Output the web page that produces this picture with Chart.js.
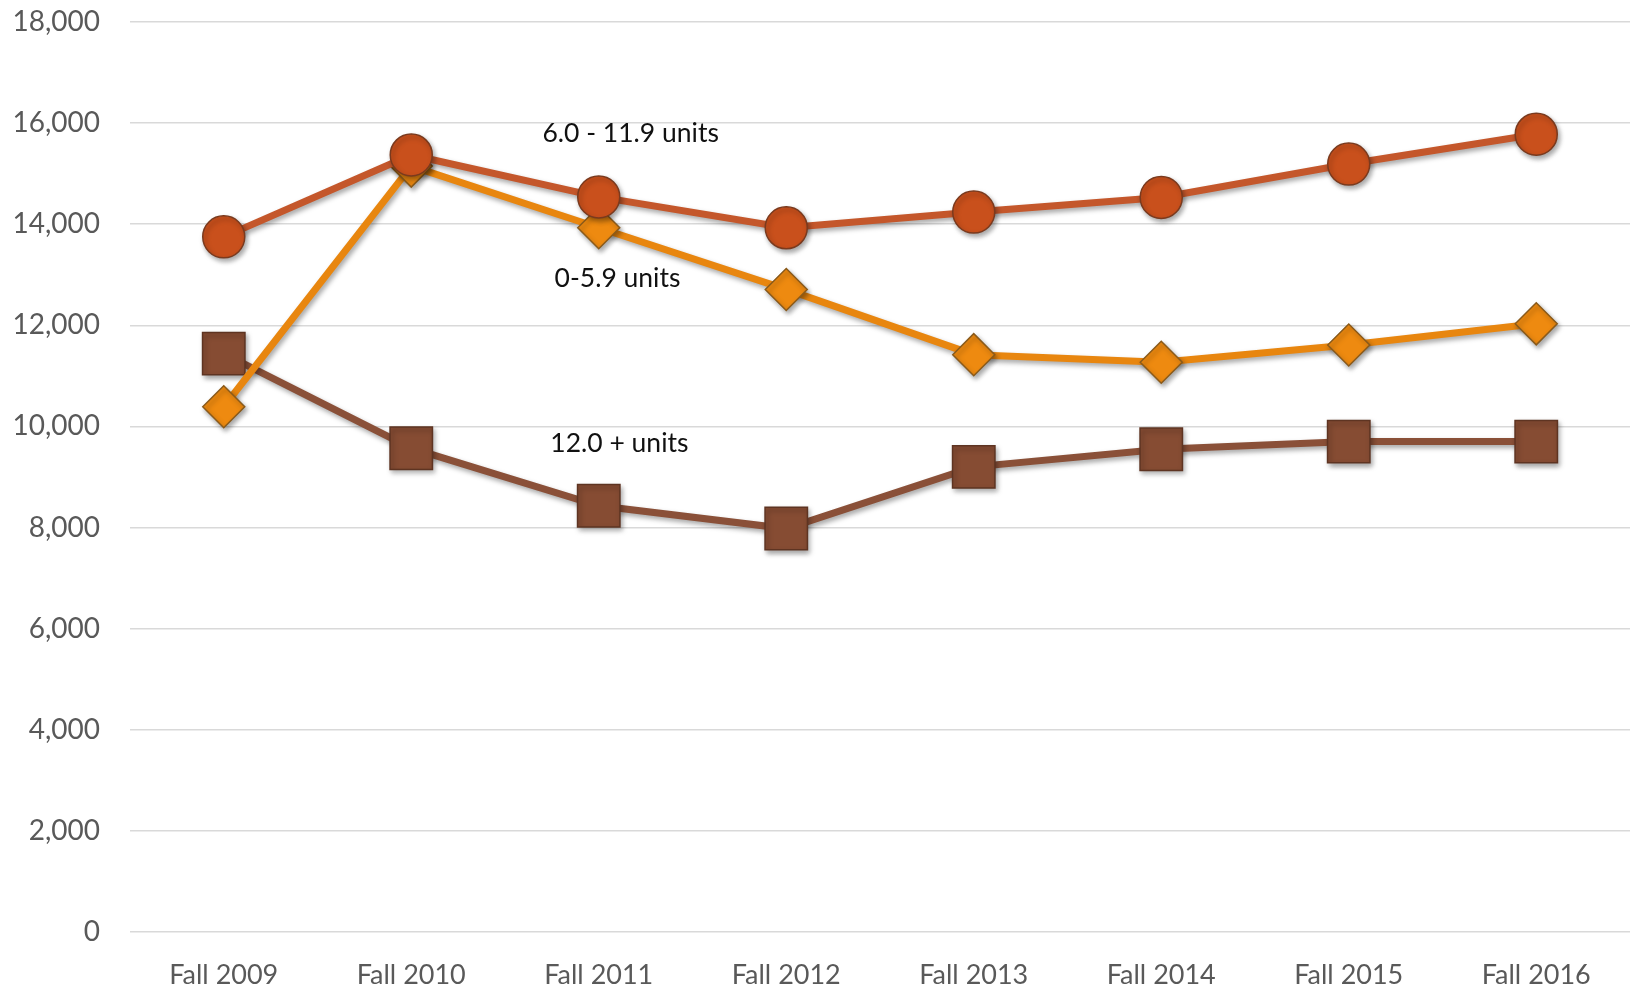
<!DOCTYPE html>
<html>
<head>
<meta charset="utf-8">
<script src="https://cdn.jsdelivr.net/npm/chart.js@4.4.1/dist/chart.umd.min.js"></script>
<style>
    body { margin: 0; background: #ffffff; overflow: hidden; }
    #wrap { width: 1631px; height: 989px; position: relative; }
</style>
</head>
<body>
<div id="wrap"><canvas id="graficaUnidades"></canvas></div>
<script>
let categorias = ['Fall 2009', 'Fall 2010', 'Fall 2011', 'Fall 2012', 'Fall 2013', 'Fall 2014', 'Fall 2015', 'Fall 2016'];
let unidades6a119 = [13750, 15370, 14540, 13930, 14240, 14530, 15190, 15780];
let unidades0a59 = [10390, 15150, 13930, 12710, 11420, 11270, 11610, 12030];
let unidades12mas = [11440, 9570, 8430, 7980, 9200, 9550, 9700, 9700];
let ticksY = [0, 2000, 4000, 6000, 8000, 10000, 12000, 14000, 16000, 18000];

// etiquetas de serie: [texto, indice categoria, valor]
let etiquetas = [
    ['6.0 - 11.9 units', 2.17, 15800],
    ['0-5.9 units', 2.1, 12920],
    ['12.0 + units', 2.11, 9670]
];

let sombra = {
    id: 'sombra',
    beforeDatasetsDraw: function(chart) {
        let ctx = chart.ctx;
        ctx.save();
        ctx.shadowColor = 'rgba(0,0,0,0.35)';
        ctx.shadowBlur = 5;
        ctx.shadowOffsetX = 2;
        ctx.shadowOffsetY = 3;
    },
    afterDatasetsDraw: function(chart) {
        chart.ctx.restore();
    }
};

let textoSeries = {
    id: 'textoSeries',
    afterDatasetsDraw: function(chart) {
        let ctx = chart.ctx;
        let x = chart.scales.x;
        let y = chart.scales.y;
        ctx.save();
        ctx.font = '26.5px Lato';
        ctx.fillStyle = '#111111';
        ctx.textAlign = 'center';
        ctx.textBaseline = 'middle';
        etiquetas.forEach(function(e) {
            ctx.fillText(e[0], x.getPixelForValue(e[1]), y.getPixelForValue(e[2]));
        });
        ctx.restore();
    }
};

let ctx = document.getElementById('graficaUnidades').getContext('2d');
let chart = new Chart(ctx, {
    type: 'line',
    data: {
        labels: categorias,
        datasets: [{
            label: '6.0 - 11.9 units',
            data: unidades6a119,
            borderColor: '#C4572B',
            borderWidth: 7,
            pointStyle: 'circle',
            pointRadius: 21,
            pointBackgroundColor: '#C9501C',
            pointBorderColor: '#7a3a1e',
            pointBorderWidth: 1.5,
            order: 1
        }, {
            label: '0-5.9 units',
            data: unidades0a59,
            borderColor: '#E8860F',
            borderWidth: 7,
            pointStyle: 'rectRot',
            pointRadius: 21,
            pointBackgroundColor: '#EE8A10',
            pointBorderColor: '#8a5a1a',
            pointBorderWidth: 1.5,
            order: 2
        }, {
            label: '12.0 + units',
            data: unidades12mas,
            borderColor: '#8A5038',
            borderWidth: 7,
            pointStyle: 'rect',
            pointRadius: 30,
            pointBackgroundColor: '#864C33',
            pointBorderColor: '#5e3422',
            pointBorderWidth: 1.5,
            order: 3
        }]
    },
    options: {
        responsive: true,
        maintainAspectRatio: false,
        animation: false,
        layout: { autoPadding: false, padding: { top: 22, right: 1, left: 0, bottom: 0 } },
        plugins: {
            legend: { display: false },
            tooltip: { enabled: false }
        },
        scales: {
            x: {
                offset: true,
                grid: { display: false },
                border: { display: false },
                ticks: {
                    color: '#595959',
                    font: { family: 'Lato', size: 27 },
                    padding: 19,
                    maxRotation: 0
                },
                afterFit: function(scale) {
                    scale.height = 57;
                    scale.paddingLeft = 0;
                    scale.paddingRight = 0;
                }
            },
            y: {
                min: 0,
                max: 18000,
                grid: { color: '#d9d9d9', lineWidth: 1.5, drawTicks: false },
                border: { display: false },
                afterBuildTicks: function(scale) {
                    scale.ticks = ticksY.map(function(v) { return { value: v }; });
                },
                ticks: {
                    color: '#595959',
                    font: { family: 'Lato', size: 28 },
                    padding: 30,
                    callback: function(v) { return v.toLocaleString('en-US'); }
                },
                afterFit: function(scale) {
                    scale.width = 130;
                    scale.paddingTop = 0;
                    scale.paddingBottom = 0;
                }
            }
        }
    },
    plugins: [sombra, textoSeries]
});
</script>
</body>
</html>
